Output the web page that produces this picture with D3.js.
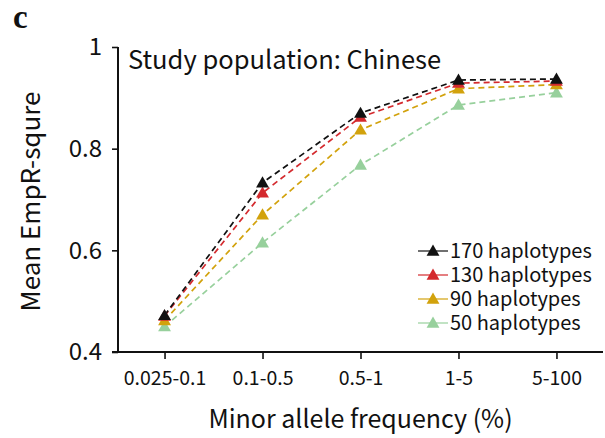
<!DOCTYPE html>
<html>
<head>
<meta charset="utf-8">
<script src="https://cdn.jsdelivr.net/npm/d3@7"></script>
<style>
  html, body { margin: 0; padding: 0; background: #fff; }
  svg { display: block; }
  text { font-family: "Noto Sans CJK SC", "Noto Sans", sans-serif; fill: #111; }
</style>
</head>
<body>
<svg id="chart" width="605" height="438"></svg>
<script>
// MAF bins on the x axis
const categories = ["0.025-0.1", "0.1-0.5", "0.5-1", "1-5", "5-100"];

// Mean EmpR-square per reference panel size
const seriesNames = ["170 haplotypes", "130 haplotypes", "90 haplotypes", "50 haplotypes"];
const values170 = [0.472, 0.733, 0.870, 0.935, 0.937];
const values130 = [0.471, 0.713, 0.862, 0.929, 0.933];
const values90  = [0.462, 0.670, 0.837, 0.918, 0.926];
const values50  = [0.450, 0.615, 0.768, 0.886, 0.910];
const seriesColors = ["#111111", "#d42a2e", "#d2a20c", "#97d09c"];

const yTicks = [0.4, 0.6, 0.8, 1];

const series = seriesNames.map((name, i) => ({
  name,
  color: seriesColors[i],
  values: [values170, values130, values90, values50][i]
}));

const svg = d3.select("#chart");
const margin = { left: 118, top: 47, right: 2, bottom: 86 };
const W = 605, H = 438;
const innerW = W - margin.left - margin.right;
const innerH = H - margin.top - margin.bottom;

const g = svg.append("g").attr("transform", `translate(${margin.left},${margin.top})`);

const x = d3.scalePoint().domain(categories).range([0, innerW]).padding(0.475);
const y = d3.scaleLinear().domain([0.4, 1]).range([innerH, 0]);

// panel letter
svg.append("text")
  .attr("x", 13).attr("y", 28)
  .style("font-family", "'Liberation Serif', 'DejaVu Serif', serif")
  .style("font-weight", "bold")
  .style("font-size", "33px")
  .text("c");

// y axis
const yAxis = g.append("g")
  .call(d3.axisLeft(y).tickValues(yTicks).tickFormat(d3.format("~g")).tickSize(6).tickPadding(10));
yAxis.select(".domain").attr("d", `M0,0V${innerH}`).attr("stroke", "#111").attr("stroke-width", 2);
yAxis.selectAll(".tick line").attr("stroke", "#111").attr("stroke-width", 1.6);
yAxis.selectAll(".tick text").style("font-size", "24px").attr("fill", "#111")
  .style("font-family", "'Noto Sans CJK SC', sans-serif");

// x axis
const xAxis = g.append("g").attr("transform", `translate(0,${innerH})`)
  .call(d3.axisBottom(x).tickSize(7).tickPadding(12));
xAxis.select(".domain").attr("d", `M-6,0H${innerW}`).attr("stroke", "#111").attr("stroke-width", 2);
xAxis.selectAll(".tick line").attr("stroke", "#111").attr("stroke-width", 1.6);
xAxis.selectAll(".tick text").style("font-size", "19.5px").attr("fill", "#111")
  .style("font-family", "'Noto Sans CJK SC', sans-serif");

// axis titles
svg.append("text")
  .attr("x", margin.left + x(categories[2])).attr("y", 428)
  .attr("text-anchor", "middle")
  .style("font-size", "25px")
  .text("Minor allele frequency (%)");

svg.append("text")
  .attr("transform", `translate(40,${margin.top + innerH / 2 + 2}) rotate(-90)`)
  .attr("text-anchor", "middle")
  .style("font-size", "26px")
  .text("Mean EmpR-squre");

// panel title
g.append("text")
  .attr("x", 10).attr("y", 22)
  .style("font-size", "25.5px")
  .text("Study population: Chinese");

// dashed lines, drawn from the smallest panel up so 170 sits on top
const line = d3.line()
  .x((d, i) => x(categories[i]))
  .y(d => y(d));

const tri = d3.symbol().type(d3.symbolTriangle).size(72);

const drawOrder = series.slice().reverse();
drawOrder.forEach(s => {
  g.append("path")
    .datum(s.values)
    .attr("d", line)
    .attr("fill", "none")
    .attr("stroke", s.color)
    .attr("stroke-width", 1.7)
    .attr("stroke-dasharray", "6,4");
});
drawOrder.forEach(s => {
  g.selectAll(null)
    .data(s.values)
    .join("path")
    .attr("d", tri)
    .attr("transform", (d, i) => `translate(${x(categories[i])},${y(d) + 1})`)
    .attr("fill", s.color);
});

// legend
const legend = svg.append("g").attr("transform", "translate(433,251)");
series.forEach((s, i) => {
  const row = legend.append("g").attr("transform", `translate(0,${i * 24})`);
  row.append("line")
    .attr("x1", -15).attr("x2", 15)
    .attr("stroke", s.color).attr("stroke-width", 1.2);
  row.append("path").attr("d", tri).attr("transform", "translate(0,1)").attr("fill", s.color);
  row.append("text")
    .attr("x", 17).attr("y", 7)
    .style("font-size", "20px")
    .text(s.name);
});
</script>
</body>
</html>
